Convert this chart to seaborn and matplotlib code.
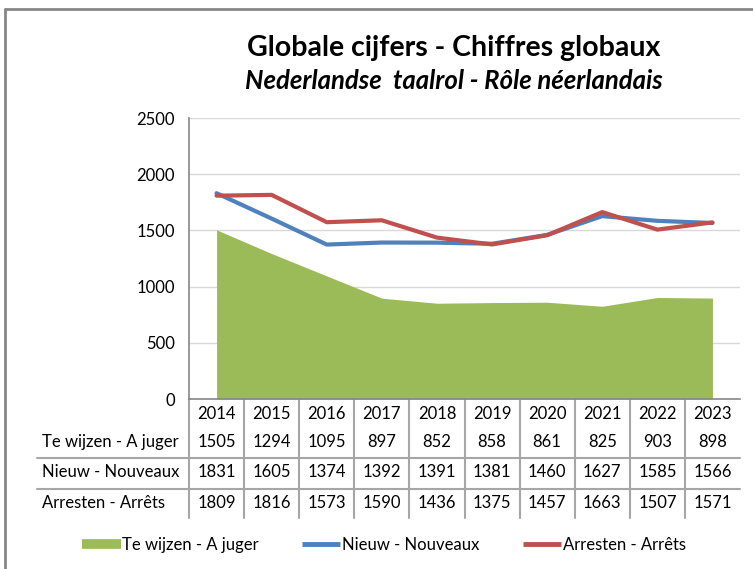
import numpy as np
import pandas as pd
import seaborn as sns
import matplotlib.pyplot as plt
from matplotlib.lines import Line2D
from matplotlib.transforms import blended_transform_factory

years = ["2014", "2015", "2016", "2017", "2018", "2019", "2020", "2021", "2022", "2023"]
te_wijzen = [1505, 1294, 1095, 897, 852, 858, 861, 825, 903, 898]
nieuw = [1831, 1605, 1374, 1392, 1391, 1381, 1460, 1627, 1585, 1566]
arresten = [1809, 1816, 1573, 1590, 1436, 1375, 1457, 1663, 1507, 1571]
series_names = ["Te wijzen - A juger", "Nieuw - Nouveaux", "Arresten - Arrêts"]

green = "#9BBB59"
blue = "#4F81BD"
red = "#C0504D"

sns.set_theme(style="white")
plt.rcParams['font.family'] = ['Lato', 'DejaVu Sans']
plt.rcParams['text.color'] = 'black'
plt.rcParams['ytick.color'] = 'black'

df = pd.DataFrame({"pos": np.arange(len(years)), "year": years,
                   "te_wijzen": te_wijzen, "nieuw": nieuw, "arresten": arresten})

fig = plt.figure(figsize=(7.53, 5.69), dpi=100)
ax = fig.add_axes([189 / 753, 170 / 569, 551 / 753, 281 / 569])

# area + lines
ax.fill_between(df["pos"], df["te_wijzen"], color=green, linewidth=0)
sns.lineplot(data=df, x="pos", y="nieuw", color=blue, lw=3, ax=ax)
sns.lineplot(data=df, x="pos", y="arresten", color=red, lw=3, ax=ax)

ax.set_xlim(-0.5, len(years) - 0.5)
ax.set_ylim(0, 2500)
ax.set_yticks(range(0, 2501, 500))
ax.set_xticks([])
ax.set_xlabel("")
ax.set_ylabel("")
ax.yaxis.grid(True, color="#D9D9D9", lw=1)
ax.set_axisbelow(True)
for s in ["top", "right"]:
    ax.spines[s].set_visible(False)
for s in ["left", "bottom"]:
    ax.spines[s].set_color("#868686")
    ax.spines[s].set_linewidth(1.2)
fs = 12
ax.tick_params(axis="y", length=0, pad=10, labelsize=fs, labelcolor="black")

# data table under the chart
ah = 281.0
row_y = [-15 / ah, -43 / ah, -73 / ah, -104 / ah]
tdata = blended_transform_factory(ax.transData, ax.transAxes)
tfig = blended_transform_factory(fig.transFigure, ax.transAxes)
rows = [te_wijzen, nieuw, arresten]
for i, y in enumerate(years):
    ax.text(i, row_y[0], y, transform=tdata, ha="center", va="center", fontsize=fs)
    for r, vals in enumerate(rows):
        ax.text(i, row_y[r + 1], str(vals[i]), transform=tdata, ha="center", va="center", fontsize=fs)
for r, name in enumerate(series_names):
    ax.text(42 / 753, row_y[r + 1], name, transform=tfig, ha="left", va="center", fontsize=fs)

lc = "#A6A6A6"
for yl in [-59 / ah, -90 / ah]:
    ax.plot([37 / 753, 740 / 753], [yl, yl], transform=tfig, color=lc, lw=1.5, clip_on=False)
for i in range(len(years)):
    ax.plot([i - 0.5, i - 0.5], [0, -119 / ah], transform=tdata, color=lc, lw=1.5, clip_on=False)

# titles
fig.text(454 / 753, 1 - 48 / 569, "Globale cijfers - Chiffres globaux", ha="center", va="center",
         fontsize=20.5, fontweight="bold")
fig.text(454 / 753, 1 - 81 / 569, "Nederlandse  taalrol - Rôle néerlandais", ha="center", va="center",
         fontsize=18.5, fontweight="bold", fontstyle="italic")

# legend
handles = [Line2D([], [], color=green, lw=7, solid_capstyle="butt"),
           Line2D([], [], color=blue, lw=3.5, solid_capstyle="butt"),
           Line2D([], [], color=red, lw=3.5, solid_capstyle="butt")]
fig.legend(handles, series_names, loc="center", bbox_to_anchor=(384 / 753, 24 / 569), ncol=3,
           frameon=False, fontsize=fs, handlelength=2.3, handletextpad=0.1, columnspacing=2.6)

# chart border
fig.add_artist(Line2D([5 / 753, 1], [1 - 9 / 569, 1 - 9 / 569], transform=fig.transFigure, color="#878787", lw=2))
fig.add_artist(Line2D([5 / 753, 5 / 753], [0, 1 - 9 / 569], transform=fig.transFigure, color="#878787", lw=2))

fig.savefig("out.png", dpi=100)
